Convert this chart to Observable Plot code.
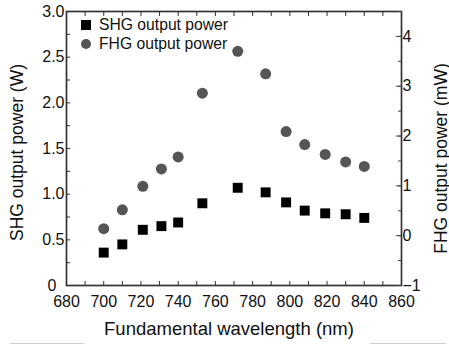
<!DOCTYPE html>
<html><head><meta charset="utf-8">
<script src="https://cdn.jsdelivr.net/npm/d3@7"></script>
<script src="https://cdn.jsdelivr.net/npm/@observablehq/plot@0.6"></script>
<style>
html,body{margin:0;padding:0;background:#fff;}
#chart{position:relative;width:449px;height:347px;font-family:"Liberation Sans",Arial,sans-serif;color:#111;}
#chart svg{position:absolute;left:0;top:0;}
#chart svg.left g[aria-label="x-axis label"] text{font-size:18.5px;}
#chart svg.left g[aria-label="y-axis label"] text{font-size:17.5px;}
#chart svg.right g[aria-label="y-axis label"] text{font-size:17.5px;}
.lg{position:absolute;}
.lg-sq{left:81px;top:20px;width:10px;height:10px;background:#000;}
.lg-ci{left:81px;top:39px;width:10px;height:10px;border-radius:50%;background:#555;}
.lg-t{left:99px;font-size:15.7px;line-height:18px;white-space:nowrap;}
.deco{position:absolute;height:1px;background:#cfcfcf;top:343px;}
</style></head>
<body>
<div id="chart"></div>
<script>
// ---- data ----
const wavelength = [700, 710, 721, 731, 740, 753, 772, 787, 798, 808, 819, 830, 840];
const shgPower   = [0.36, 0.45, 0.61, 0.65, 0.69, 0.90, 1.07, 1.02, 0.91, 0.82, 0.79, 0.78, 0.74];
const fhgPower   = [0.14, 0.52, 0.99, 1.34, 1.58, 2.86, 3.70, 3.25, 2.09, 1.83, 1.63, 1.48, 1.39];
const seriesNames = ["SHG output power", "FHG output power"];
const xTicks = [680, 700, 720, 740, 760, 780, 800, 820, 840, 860];
const xMinorTicks = d3.range(680, 861, 10);
const shgTicks = [0, 0.5, 1.0, 1.5, 2.0, 2.5, 3.0];
const shgMinorTicks = d3.range(0, 3.001, 0.25);
const fhgTicks = [-1, 0, 1, 2, 3, 4];
const fhgMinorTicks = d3.range(-1, 4.501, 0.5);

const shgData = wavelength.map((w, i) => ({w, p: shgPower[i]}));
const fhgData = wavelength.map((w, i) => ({w, p: fhgPower[i]}));

const W = 449, H = 347;
const frame = {width: W, height: H, marginLeft: 66, marginRight: 48, marginTop: 11, marginBottom: 62};
const font = '"Liberation Sans", Arial, sans-serif';
const style = {background: "transparent", fontFamily: font, fontSize: "16px", color: "#111", overflow: "visible"};

const left = Plot.plot({
  ...frame, style, className: "left",
  x: {domain: [680, 860], axis: null},
  y: {domain: [0, 3], axis: null},
  marks: [
    Plot.axisX(xMinorTicks, {anchor: "bottom", tickSize: -4, fill: "none", stroke: "#333", label: null}),
    Plot.axisX(xMinorTicks, {anchor: "top", tickSize: -4, fill: "none", stroke: "#333", label: null}),
    Plot.axisX(xTicks, {anchor: "bottom", tickSize: 0, tickPadding: 10, tickFormat: d => String(d),
      label: "Fundamental wavelength (nm)", labelAnchor: "center", labelArrow: "none", labelOffset: 49.5}),
    Plot.axisY(shgMinorTicks, {anchor: "left", tickSize: -4, fill: "none", stroke: "#333", label: null}),
    Plot.axisY(shgTicks, {anchor: "left", tickSize: 0, tickPadding: 2,
      tickFormat: d => d === 0 ? "0\u2002" : d.toFixed(1),
      label: "SHG output power (W)", labelAnchor: "center", labelArrow: "none", labelOffset: 56}),
    Plot.frame({stroke: "#333", strokeWidth: 1.7}),
    Plot.dot(shgData, {x: "w", y: "p", symbol: "square", r: 5.6, fill: "#000", stroke: "none"})
  ]
});

const right = Plot.plot({
  ...frame, style, className: "right",
  x: {domain: [680, 860], axis: null},
  y: {domain: [-1, 4.5], axis: null},
  marks: [
    Plot.axisY(fhgMinorTicks, {anchor: "right", tickSize: -4, fill: "none", stroke: "#444", label: null}),
    Plot.axisY(fhgTicks, {anchor: "right", tickSize: -6, fill: "none", stroke: "#444", label: null}),
    Plot.axisY(fhgTicks, {anchor: "right", tickSize: 0, tickPadding: 1,
      tickFormat: d => d < 0 ? "\u2212" + Math.abs(d) : String(d),
      label: "FHG output power (mW)", labelAnchor: "center", labelArrow: "none", labelOffset: 45}),
    Plot.dot(fhgData, {x: "w", y: "p", r: 5.5, fill: "#555", stroke: "none"})
  ]
});

// nudge axis titles to where the source places them
function shiftLabel(svg, sel, dx, dy) {
  const g = svg.querySelector(`g[aria-label="${sel}"]`);
  if (!g) return;
  const wrap = document.createElementNS("http://www.w3.org/2000/svg", "g");
  wrap.setAttribute("transform", `translate(${dx},${dy})`);
  g.parentNode.insertBefore(wrap, g);
  wrap.appendChild(g);
}
shiftLabel(left, "y-axis label", 0, 4);
shiftLabel(left, "x-axis label", -5, 0);
shiftLabel(right, "y-axis label", 0, 10);

const chart = document.getElementById("chart");
chart.appendChild(left);
chart.appendChild(right);

// legend (inside the frame, top-left)
const lg = [
  ["lg lg-sq", null, null],
  ["lg lg-ci", null, null],
  ["lg lg-t", seriesNames[0], 16],
  ["lg lg-t", seriesNames[1], 35]
];
for (const [cls, txt, top] of lg) {
  const d = document.createElement("div");
  d.className = cls;
  if (txt) { d.textContent = txt; d.style.top = top + "px"; }
  chart.appendChild(d);
}
// faint decorative rules under the chart, as in the source figure
for (const [l, w] of [[10, 74], [370, 76]]) {
  const d = document.createElement("div");
  d.className = "deco"; d.style.left = l + "px"; d.style.width = w + "px";
  chart.appendChild(d);
}
</script>
</body></html>
